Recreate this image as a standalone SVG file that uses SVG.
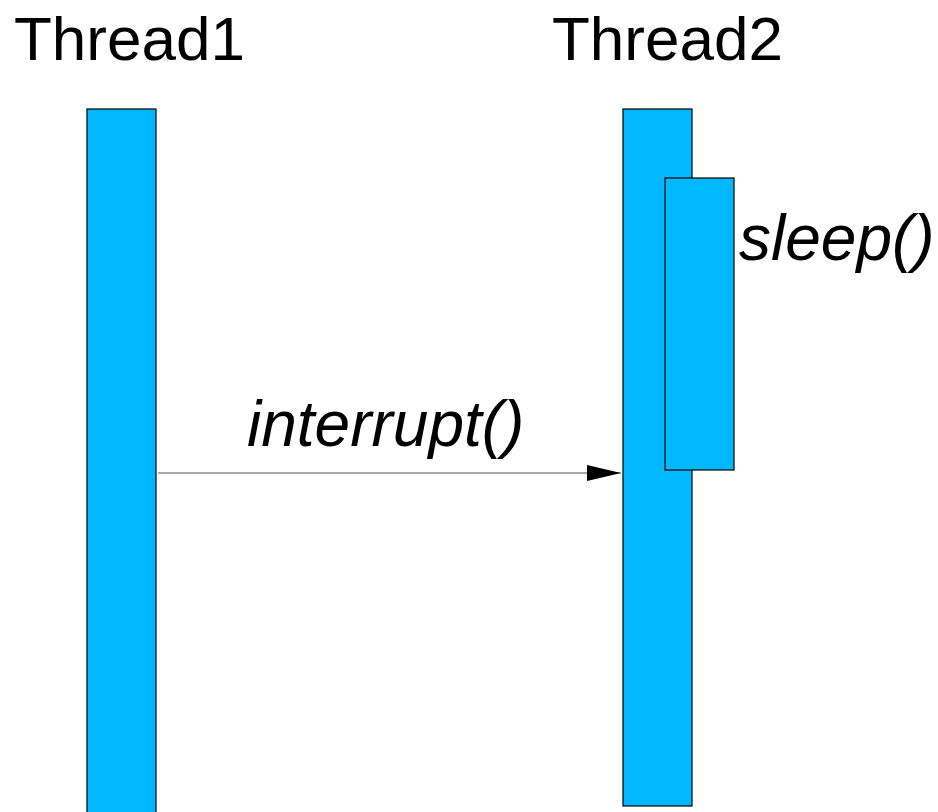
<svg xmlns="http://www.w3.org/2000/svg" width="938" height="812" viewBox="0 0 938 812">
<style>
.bar{fill:#00b8ff;stroke:#000;stroke-width:1.2}
.t{font-family:"Liberation Sans",Arial,sans-serif;font-size:62px;fill:#000}
.i{font-style:italic;font-size:64px}
</style>
<defs>
<marker id="ah" markerWidth="34" markerHeight="16" refX="34" refY="8" orient="auto" markerUnits="userSpaceOnUse">
<path d="M0,0 L34,8 L0,16 Z" fill="#000"/>
</marker>
</defs>
<rect width="938" height="812" fill="#fff"/>
<g id="thread1">
<rect class="bar" x="87" y="109" width="69" height="710"/>
<text class="t" x="14" y="60">Thread1</text>
</g>
<g id="thread2">
<rect class="bar" x="623" y="109" width="69" height="697"/>
<text class="t" x="552" y="60">Thread2</text>
</g>
<g id="sleep">
<rect class="bar" x="665" y="178" width="69" height="292"/>
<text class="t i" x="739" y="260">sleep()</text>
</g>
<g id="connectors">
<line x1="158" y1="473" x2="621" y2="473" stroke="#555" stroke-width="1.2" marker-end="url(#ah)"/>
<text class="t i" x="247" y="446">interrupt()</text>
</g>
</svg>
